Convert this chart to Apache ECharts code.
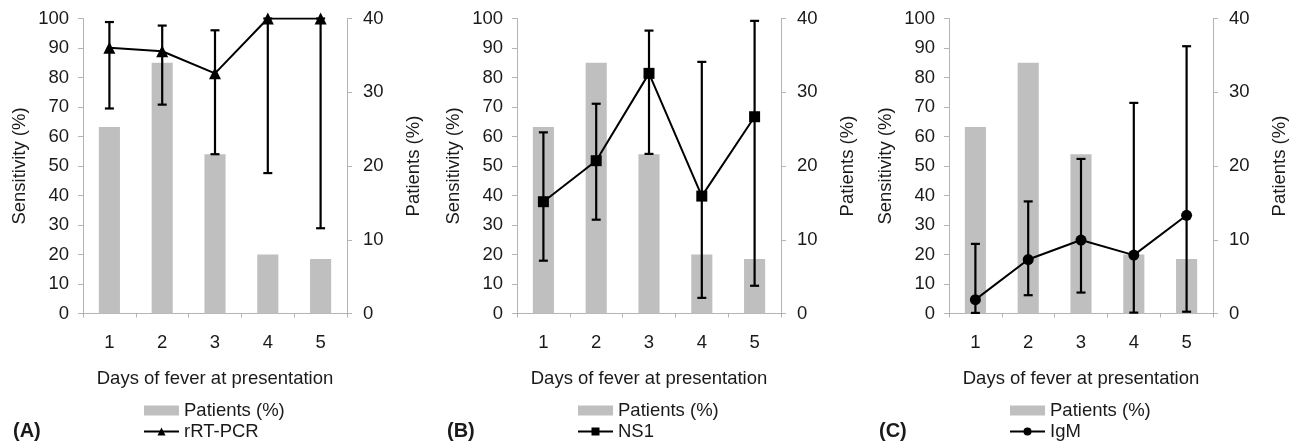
<!DOCTYPE html>
<html>
<head>
<meta charset="utf-8">
<script src="https://cdn.jsdelivr.net/npm/echarts@6/dist/echarts.min.js"></script>
<style>
html,body{margin:0;padding:0;background:#fff;}
#chart{width:1294px;height:444px;}
</style>
</head>
<body>
<div id="chart"></div>
<script>
const categories = ['1', '2', '3', '4', '5'];
const leftTicks = [0, 100, 10];
const rightTicks = [0, 40, 10];
const patients = [25.3, 34.0, 21.6, 8.0, 7.4];

const rtpcr = [90.1, 88.9, 81.4, 100, 100];
const rtpcrLow = [69.5, 70.8, 54.0, 47.6, 28.9];
const rtpcrHigh = [98.8, 97.6, 96.0, 100, 100];

const ns1 = [37.9, 51.8, 81.4, 39.8, 66.7];
const ns1Low = [17.9, 31.8, 54.1, 5.3, 9.4];
const ns1High = [61.4, 71.1, 95.9, 85.3, 99.2];

const igm = [4.7, 18.3, 24.9, 19.8, 33.3];
const igmLow = [0.2, 6.2, 7.1, 0.3, 0.6];
const igmHigh = [23.6, 38.0, 52.4, 71.4, 90.6];

const panels = [
  {label: '(A)', name: 'rRT-PCR', symbol: 'triangle', size: 12, vals: rtpcr, lo: rtpcrLow, hi: rtpcrHigh},
  {label: '(B)', name: 'NS1', symbol: 'rect', size: 11, vals: ns1, lo: ns1Low, hi: ns1High},
  {label: '(C)', name: 'IgM', symbol: 'circle', size: 11, vals: igm, lo: igmLow, hi: igmHigh}
];

const FONT = "'Liberation Sans', Arial, sans-serif";
const FS = 18.5;
const TXT = '#1a1a1a';
const AX = '#b4b4b4';
const gridLefts = [83, 517, 949];
const gridW = 264;
const gridTop = 18.5;
const gridH = 295;

const grids = [], xAxes = [], yAxes = [], series = [], legends = [], titles = [];

panels.forEach((p, i) => {
  grids.push({left: gridLefts[i], top: gridTop, width: gridW, height: gridH, containLabel: false});
  xAxes.push({
    type: 'category', gridIndex: i, data: categories, boundaryGap: true,
    axisLine: {show: true, lineStyle: {color: AX, width: 1}},
    axisTick: {show: true, interval: 0, length: 4, lineStyle: {color: AX}},
    axisLabel: {fontSize: FS, fontFamily: FONT, color: TXT, margin: 20},
    name: 'Days of fever at presentation', nameLocation: 'middle', nameGap: 56,
    nameTextStyle: {fontSize: FS, fontFamily: FONT, color: TXT}
  });
  yAxes.push({
    type: 'value', gridIndex: i, position: 'left',
    min: leftTicks[0], max: leftTicks[1], interval: leftTicks[2],
    axisLine: {show: true, lineStyle: {color: AX, width: 1}},
    axisTick: {show: true, length: 5, lineStyle: {color: AX}},
    splitLine: {show: false},
    axisLabel: {fontSize: FS, fontFamily: FONT, color: TXT, margin: 14},
    name: 'Sensitivity (%)', nameLocation: 'middle', nameRotate: 90, nameGap: 54,
    nameTextStyle: {fontSize: FS, fontFamily: FONT, color: TXT}
  });
  yAxes.push({
    type: 'value', gridIndex: i, position: 'right',
    min: rightTicks[0], max: rightTicks[1], interval: rightTicks[2],
    axisLine: {show: true, lineStyle: {color: AX, width: 1}},
    axisTick: {show: true, length: 5, lineStyle: {color: AX}},
    splitLine: {show: false},
    axisLabel: {fontSize: FS, fontFamily: FONT, color: TXT, margin: 16},
    name: 'Patients (%)', nameLocation: 'middle', nameRotate: 90, nameGap: 57,
    nameTextStyle: {fontSize: FS, fontFamily: FONT, color: TXT}
  });
  series.push({
    type: 'bar', name: 'Patients (%)', xAxisIndex: i, yAxisIndex: 2 * i + 1,
    data: patients, barWidth: '40%', itemStyle: {color: '#bfbfbf'}, z: 1, silent: true
  });
  series.push({
    type: 'custom', name: p.name + ' CI', xAxisIndex: i, yAxisIndex: 2 * i, z: 2, silent: true,
    data: p.lo.map((v, k) => [k, v, p.hi[k]]),
    encode: {x: 0, y: [1, 2]},
    renderItem: function (params, api) {
      const x = api.value(0);
      const a = api.coord([x, api.value(1)]);
      const b = api.coord([x, api.value(2)]);
      const h = 4.5;
      const st = {stroke: '#000', lineWidth: 2.2};
      return {type: 'group', children: [
        {type: 'line', shape: {x1: a[0], y1: a[1], x2: b[0], y2: b[1]}, style: st},
        {type: 'line', shape: {x1: a[0] - h, y1: a[1], x2: a[0] + h, y2: a[1]}, style: st},
        {type: 'line', shape: {x1: b[0] - h, y1: b[1], x2: b[0] + h, y2: b[1]}, style: st}
      ]};
    }
  });
  series.push({
    type: 'line', name: p.name, xAxisIndex: i, yAxisIndex: 2 * i, z: 3,
    data: p.vals, symbol: p.symbol, symbolSize: p.size, showAllSymbol: true,
    lineStyle: {color: '#000', width: 2}, itemStyle: {color: '#000'}, silent: true
  });
  legends.push({
    orient: 'vertical', left: gridLefts[i] + 60, top: 401, padding: 0, itemGap: 2,
    itemWidth: 35, itemHeight: 10, selectedMode: false,
    textStyle: {fontSize: FS, fontFamily: FONT, color: TXT, padding: [0, 0, 0, 0]},
    data: [{name: 'Patients (%)', icon: 'rect'}, {name: p.name}]
  });
  titles.push({
    text: p.label, left: gridLefts[i] - 70, top: 421, padding: 0,
    textStyle: {fontSize: 20, fontWeight: 'bold', fontFamily: FONT, color: TXT}
  });
});

const chart = echarts.init(document.getElementById('chart'), null, {renderer: 'canvas'});
chart.setOption({
  animation: false,
  backgroundColor: '#fff',
  title: titles,
  grid: grids,
  xAxis: xAxes,
  yAxis: yAxes,
  legend: legends,
  series: series
});
</script>
</body>
</html>
